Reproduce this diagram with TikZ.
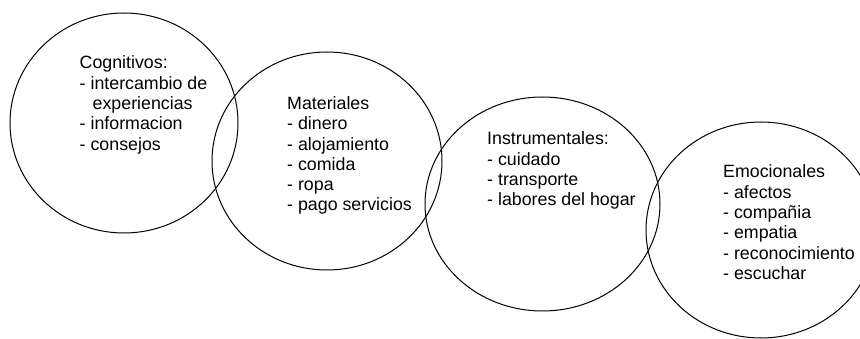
\documentclass[tikz,border=0pt]{standalone}
\usepackage{fontspec}
\setmainfont{Liberation Sans}
\usetikzlibrary{shapes.geometric}
\tikzset{
  bubble/.style={ellipse, draw=black, line width=1pt, inner sep=0pt},
  blocktext/.style={anchor=base west, inner sep=0pt, font=\fontsize{17.8}{20.3}\selectfont, text=black}
}
\newcommand{\blk}[1]{\begin{tabular}[t]{@{}l@{}}#1\end{tabular}}
\begin{document}
\begin{tikzpicture}[x=1pt, y=-1pt]
\useasboundingbox (0,0) rectangle (860,339);
\clip (0,0) rectangle (860,339);
\node[bubble, minimum width=228pt, minimum height=220pt] (e1) at (124,123) {};
\node[bubble, minimum width=230pt, minimum height=218pt] (e2) at (327,161) {};
\node[bubble, minimum width=235pt, minimum height=214pt] (e3) at (542.5,204) {};
\node[bubble, minimum width=230pt, minimum height=216pt] (e4) at (761,230) {};
\node[blocktext] (t1) at (79.5,69) {\blk{Cognitivos:\\- intercambio de\\\hspace*{13pt}experiencias\\- informacion\\- consejos}};
\node[blocktext] (t2) at (287,109.5) {\blk{Materiales\\- dinero\\- alojamiento\\- comida\\- ropa\\- pago servicios}};
\node[blocktext] (t3) at (487,145) {\blk{Instrumentales:\\- cuidado\\- transporte\\- labores del hogar}};
\node[blocktext] (t4) at (723,178) {\blk{Emocionales\\- afectos\\- compañia\\- empatia\\- reconocimiento\\- escuchar}};
\end{tikzpicture}
\end{document}
